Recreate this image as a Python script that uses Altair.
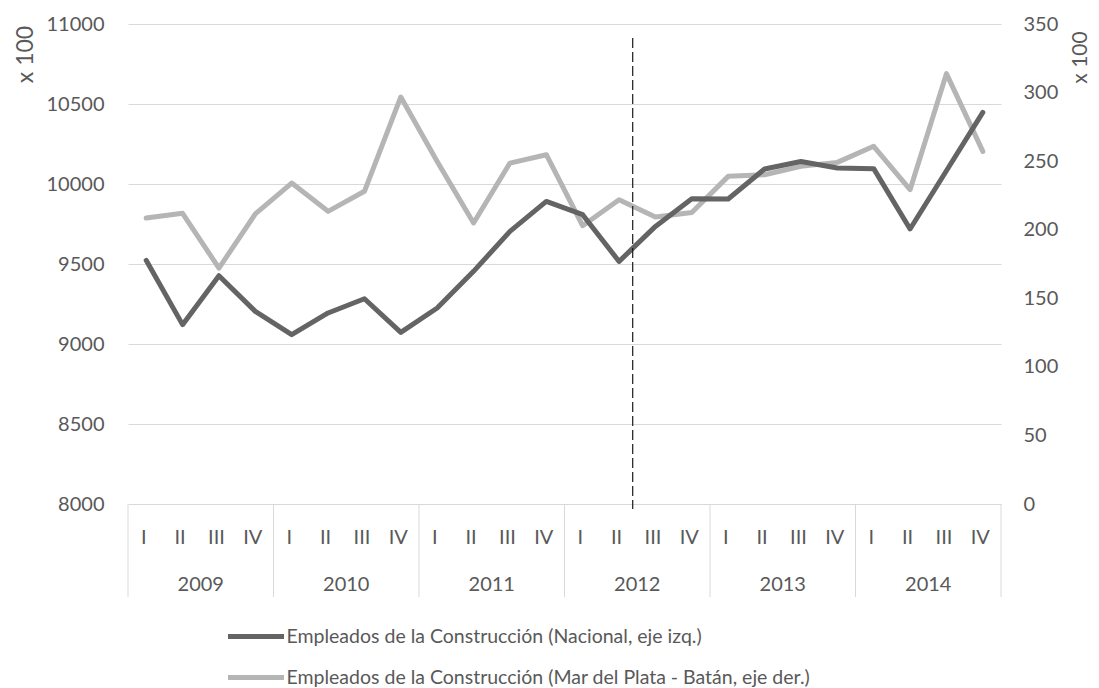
import altair as alt
import pandas as pd

years = ["2009", "2010", "2011", "2012", "2013", "2014"]
quarters = ["I", "II", "III", "IV"]

nacional = [9523, 9121, 9427, 9204,
            9058, 9194, 9283, 9073,
            9225, 9454, 9704, 9891,
            9808, 9516, 9735, 9908,
            9906, 10094, 10141, 10100,
            10096, 9719, 10083, 10448]

mdp = [208.5, 212.0, 172.0, 211.5,
       234.0, 213.4, 228.0, 296.8,
       249.8, 204.9, 248.6, 254.7,
       202.9, 221.9, 209.3, 212.6,
       238.9, 240.1, 246.2, 249.1,
       260.8, 229.2, 313.8, 257.1]

name_nac = "Empleados de la Construcción (Nacional, eje izq.)"
name_mdp = "Empleados de la Construcción (Mar del Plata - Batán, eje der.)"

left_ticks = [8000, 8500, 9000, 9500, 10000, 10500, 11000]
right_ticks = [0, 50, 100, 150, 200, 250, 300, 350]
break_position = 13.875  # between 2012 II and 2012 III

dark = "#646464"
light = "#b5b5b5"
text_color = "#595959"
grid_color = "#d9d9d9"

n = len(nacional)
rows = []
for i in range(n):
    rows.append({"pos": i + 0.5, "year": years[i // 4], "quarter": quarters[i % 4],
                 "serie": name_nac, "valor": nacional[i]})
for i in range(n):
    rows.append({"pos": i + 0.5, "year": years[i // 4], "quarter": quarters[i % 4],
                 "serie": name_mdp, "valor": mdp[i]})
df = pd.DataFrame(rows)

year_df = pd.DataFrame({"year": years, "pos": [4 * k + 2 for k in range(len(years))]})
sep_df = pd.DataFrame({"pos": [4 * k for k in range(len(years) + 1)]})
dash_df = pd.DataFrame({"pos": [break_position]})

xscale = alt.Scale(domain=[0, n], nice=False, zero=False)

legend = alt.Legend(
    orient="none", legendX=97.5, legendY=582, direction="vertical", title=None,
    symbolType="stroke", symbolSize=3136, symbolStrokeWidth=5,
    labelFont="Lato", labelFontSize=19.5, labelColor=text_color, labelOffset=0,
    rowPadding=-16, padding=0, labelLimit=800,
)
color = alt.Color(
    "serie:N",
    scale=alt.Scale(domain=[name_nac, name_mdp], range=[dark, light]),
    legend=legend,
)

x_axis = alt.Axis(
    values=[i + 0.5 for i in range(n)],
    labelExpr="['I','II','III','IV'][floor(datum.value) % 4]",
    ticks=False, domain=False, grid=False, labelPadding=23, labelOffset=-3,
    labelFontSize=20, labelColor=text_color, labelFont="Lato", title=None,
)
x_main = alt.X("pos:Q", scale=xscale, axis=x_axis)

line_nac = alt.Chart(df).transform_filter(alt.datum.serie == name_nac).mark_line(
    strokeWidth=5, strokeCap="round", strokeJoin="round"
).encode(
    x=x_main,
    y=alt.Y("valor:Q", scale=alt.Scale(domain=[8000, 11000], nice=False, zero=False),
            axis=alt.Axis(values=left_ticks, format="d", grid=True, gridColor=grid_color, ticks=False,
                          domain=False, labelPadding=24, labelFontSize=20, labelColor=text_color,
                          labelFont="Lato", title="x 100", titleAngle=270, titleX=-103, titleY=30,
                          titleAlign="center", titleBaseline="middle", titleFontSize=23,
                          titleFont="Lato", titleFontWeight="normal", titleColor=text_color)),
    color=color,
)

line_mdp = alt.Chart(df).transform_filter(alt.datum.serie == name_mdp).mark_line(
    strokeWidth=5, strokeCap="round", strokeJoin="round"
).encode(
    x=x_main,
    y=alt.Y("valor:Q", scale=alt.Scale(domain=[0, 350], nice=False, zero=False),
            axis=alt.Axis(orient="right", values=right_ticks, format="d", grid=False, ticks=False,
                          domain=False, labelPadding=22, labelFontSize=20, labelColor=text_color,
                          labelFont="Lato", title="x 100", titleAngle=270, titleX=79, titleY=33,
                          titleAlign="center", titleBaseline="middle", titleFontSize=21,
                          titleFont="Lato", titleFontWeight="normal", titleColor=text_color)),
    color=color,
)

separators = alt.Chart(sep_df).mark_rule(color=grid_color, strokeWidth=1).encode(
    x=x_main,
    y=alt.value(480), y2=alt.value(573),
)

year_text = alt.Chart(year_df).mark_text(
    font="Lato", fontSize=20, color=text_color, baseline="middle", align="center"
).encode(
    x=x_main,
    y=alt.value(561),
    text="year:N",
)

dash_line = alt.Chart(dash_df).mark_rule(color="#1a1a1a", strokeWidth=1.2, strokeDash=[10, 4]).encode(
    x=x_main,
    y=alt.value(14), y2=alt.value(485),
)

chart = alt.layer(
    separators, line_mdp, line_nac, year_text, dash_line
).resolve_scale(y="independent").properties(
    width=873, height=480,
    padding={"left": 120, "top": 16, "right": 90, "bottom": 184},
    autosize=alt.AutoSizeParams(type="none"),
).configure_view(stroke=None)

chart.save("out.html", embed_options={"renderer": "svg", "actions": False})
